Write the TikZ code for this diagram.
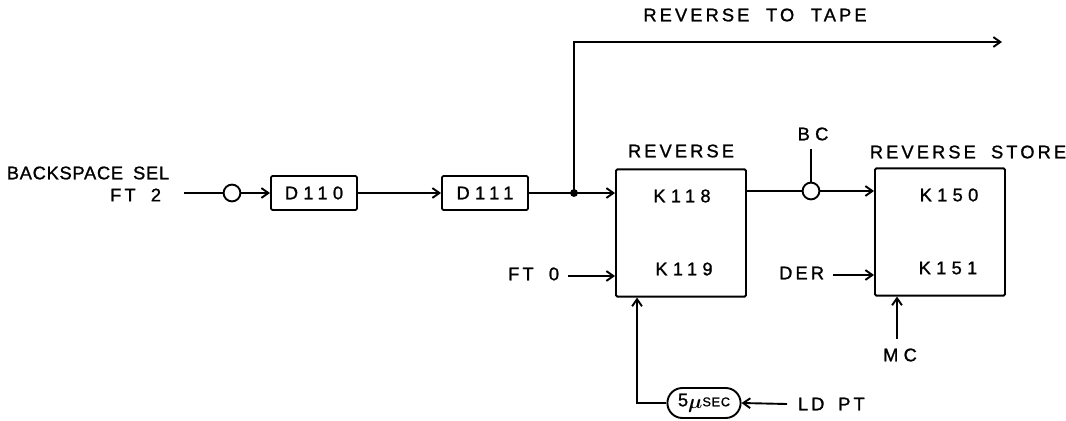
\documentclass[tikz,border=0pt]{standalone}
\usepackage{amsmath}
\usepackage{fontspec}
\setmainfont[LetterSpace=4, FakeBold=1.2]{Liberation Sans}
\usepackage{tikz}
\usetikzlibrary{arrows.meta, positioning, shapes.misc, calc}

\begin{document}
\begin{tikzpicture}[x=0.025cm, y=-0.025cm, line width=1.35pt,
    >={Straight Barb[length=5pt, width=7pt]},
    txt/.style={font=\fontsize{13}{15}\selectfont, inner sep=0pt},
    wtxt/.style={font=\fontsize{13}{15}\selectfont\addfontfeatures{LetterSpace=17}, inner sep=0pt},
    ktxt/.style={font=\fontsize{13}{15}\selectfont\addfontfeatures{LetterSpace=29}, inner sep=0pt},
    gate/.style={draw, rounded corners=1pt, minimum width=2.15cm, minimum height=0.85cm, ktxt},
    relay/.style={draw, rounded corners=1pt, minimum width=3.25cm, minimum height=3.18cm},
    inv/.style={draw, circle, minimum size=0.42cm, inner sep=0pt},
    osc/.style={draw, rounded rectangle, minimum width=1.9cm, minimum height=0.75cm, inner sep=1pt}]
    \useasboundingbox (0,0) rectangle (1066,421);

    % input side
    \node[txt] (bsel) at (88,173) {BACKSPACE\hspace{3pt} SEL};
    \node[wtxt, anchor=east] (ft2) at (162,195) {FT\hspace{5pt} 2};
    \node[inv] (c1) at (232,193) {};
    \node[gate] (d110) at (314,193) {D110};
    \node[gate] (d111) at (485,193) {D111};
    \coordinate (tap) at (574,193);
    \fill (tap) circle (2.8pt);

    % reverse relays
    \node[relay] (rev) at (681,233) {};
    \node[wtxt, above=0.25cm of rev] (revlbl) {REVERSE};
    \node[ktxt] (k118) at (682,196) {K118};
    \node[ktxt] (k119) at (684,269) {K119};
    \node[wtxt, anchor=east] (ft0) at (560,274) {FT\hspace{5pt} 0};

    % reverse store relays
    \node[relay] (rs) at (940,232) {};
    \node[wtxt] (rslbl) at (968,152) {REVERSE\hspace{5pt} STORE};
    \node[ktxt] (k150) at (949,195) {K150};
    \node[ktxt] (k151) at (948,268) {K151};
    \node[wtxt, anchor=east] (der) at (825,273) {DER};
    \node[ktxt] (mc) at (900,355) {MC};

    \node[inv] (bc) at (811,191) {};
    \node[ktxt] (bctxt) at (813,134) {BC};

    % one shot
    \node[osc] (ts) at (704,403) {\fontsize{13}{14}\selectfont 5\raisebox{-1.5pt}{\fontsize{15}{16}\selectfont$\boldsymbol{\mu}$}\fontsize{9}{10}\selectfont\addfontfeatures{LetterSpace=6}SEC};
    \node[wtxt, anchor=west] (ldpt) at (797,404) {LD\hspace{4pt} PT};

    \node[wtxt] (tape) at (755,15) {REVERSE\hspace{6pt} TO\hspace{6pt} TAPE};
    \coordinate (tapeend) at (1002,42);

    % connectors
    \draw ($(ft2.east)+(22,-2)$) -- (c1);
    \draw[->] (c1) -- (d110);
    \draw[->] (d110) -- (d111);
    \draw (d111.east) -- (tap);
    \draw[->] (tap) -- (tap -| rev.west);
    \draw[->] (tap) |- (tapeend);
    \draw[->] ($(ft0.east)+(8,2)$) -- ($(ft0.east -| rev.west)+(0,2)$);
    \draw (rev.east |- bc) -- (bc);
    \draw[->] (bc) -- (bc -| rs.west);
    \draw (bc.north) -- ($(bctxt.south)+(-2,8)$);
    \draw[->] ($(der.east)+(8,2)$) -- ($(der.east -| rs.west)+(0,2)$);
    \draw[->] ($(mc.north)+(-3,-9)$) -- ($(mc.north |- rs.south)+(-3,0)$);
    \draw[->] ($(ldpt.west)+(-10,0)$) -- (ts.east);
    \draw[->] (ts.west) -| ($(rev.south west)+(22,0)$);
\end{tikzpicture}
\end{document}
